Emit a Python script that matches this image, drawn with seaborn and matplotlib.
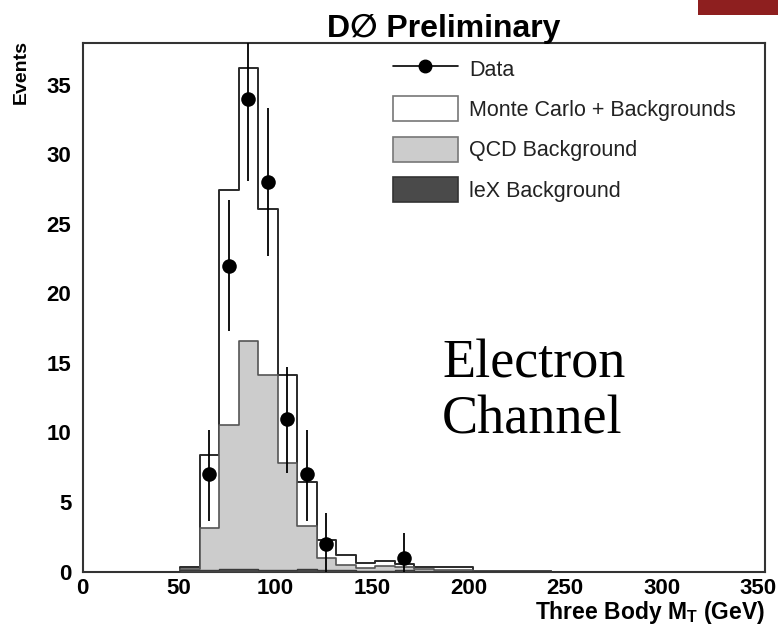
import numpy as np
import pandas as pd
import matplotlib
matplotlib.use("Agg")
import matplotlib.pyplot as plt
from matplotlib.patches import Patch, Rectangle
from matplotlib.lines import Line2D
from matplotlib.transforms import ScaledTranslation
import seaborn as sns

# ---------------- data ----------------
bin_edges = [50, 60, 70, 80, 90, 100, 110, 120, 130, 140, 150, 160, 170,
             180, 190, 200, 210, 220, 230, 240]
mc_total = [0.35, 8.4, 27.4, 36.2, 26.1, 14.1, 6.4, 2.3, 1.2, 0.6, 0.75,
            0.55, 0.35, 0.3, 0.35, 0.06, 0.06, 0.06, 0.06]
qcd_bkg = [0.2, 3.1, 10.5, 16.6, 14.1, 7.8, 3.3, 1.0, 0.45, 0.25, 0.4,
           0.35, 0.2, 0.1, 0.1, 0.02, 0.02, 0.02, 0.02]
lex_bkg = [0.1, 0.1, 0.15, 0.2, 0.1, 0.1, 0.15, 0.1, 0.1, 0.05, 0.05,
           0.1, 0.05, 0.05, 0.05, 0.0, 0.0, 0.0, 0.0]

data_x = [65, 75, 85, 95, 105, 115, 125, 165]
data_y = [7, 22, 34, 28, 11, 7, 2, 1]
data_hi = [10.2, 26.7, 39.8, 33.3, 14.7, 10.2, 4.2, 2.8]
data_lo = [3.6, 17.3, 28.1, 22.7, 7.1, 3.6, 0.0, 0.0]

x_ticks = [0, 50, 100, 150, 200, 250, 300, 350]
y_ticks = [0, 5, 10, 15, 20, 25, 30, 35]
legend_labels = ["Data", "Monte Carlo + Backgrounds", "QCD Background", "leX Background"]

# ---------------- style ----------------
sns.set_style("white")
plt.rcParams["font.family"] = ["Liberation Sans", "DejaVu Sans"]
plt.rcParams["mathtext.fontset"] = "custom"
plt.rcParams["mathtext.rm"] = "Liberation Sans"
plt.rcParams["mathtext.bf"] = "Liberation Sans:bold"
plt.rcParams["text.color"] = "black"

W, H = 781, 626
fig = plt.figure(figsize=(W / 100, H / 100), dpi=100)
fig.patch.set_facecolor("white")
ax_l, ax_r, ax_t, ax_b = 82.5, 765, 43, 571.5
ax = fig.add_axes([ax_l / W, 1 - ax_b / H, (ax_r - ax_l) / W, (ax_b - ax_t) / H])

centers = np.array(bin_edges[:-1]) + 5
df = pd.DataFrame({"mt": centers, "mc": mc_total, "qcd": qcd_bkg, "lex": lex_bkg})

edge_col = "#2a2a2a"
sns.histplot(data=df, x="mt", weights="mc", bins=bin_edges, element="step",
             fill=True, color="white", alpha=1, edgecolor=edge_col,
             linewidth=1.4, ax=ax, zorder=1)
sns.histplot(data=df, x="mt", weights="qcd", bins=bin_edges, element="step",
             fill=True, color="#cccccc", alpha=1, edgecolor="#555555",
             linewidth=1.2, ax=ax, zorder=2)
sns.histplot(data=df, x="mt", weights="lex", bins=bin_edges, element="step",
             fill=True, color="#4a4a4a", alpha=1, edgecolor="#3a3a3a",
             linewidth=1.0, ax=ax, zorder=3)

# data points with error bars
dx = np.array(data_x, dtype=float)
dy = np.array(data_y, dtype=float)
ax.vlines(dx, data_lo, data_hi, color="black", linewidth=1.3, zorder=4)
sns.scatterplot(x=dx, y=dy, color="black", s=110, edgecolor="black",
                linewidth=0, ax=ax, zorder=5)

ax.set_xlim(0, 350)
ax.set_ylim(0, 38)
ax.set_xticks(x_ticks)
ax.set_yticks(y_ticks)
ax.set_xticks(np.arange(0, 351, 10), minor=True)
ax.set_yticks(np.arange(0, 38.1, 1), minor=True)
ax.tick_params(axis="both", which="both", direction="in", top=False, right=False,
               colors="#444444", labelcolor="black")
ax.tick_params(axis="x", which="major", length=11, width=1.1, pad=5)
ax.tick_params(axis="x", which="minor", length=6, width=1.1)
ax.tick_params(axis="y", which="major", length=14, width=1.1, pad=8)
ax.tick_params(axis="y", which="minor", length=6.5, width=1.1)
for lab in ax.get_xticklabels() + ax.get_yticklabels():
    lab.set_fontweight("bold")
    lab.set_fontsize(16)
# x tick labels sit slightly left of their ticks toward the right end, as in the reference
for val, lab in zip(x_ticks, ax.get_xticklabels()):
    shift_px = -7.0 * val / 350.0
    lab.set_transform(lab.get_transform() +
                      ScaledTranslation(shift_px / 100.0, 0, fig.dpi_scale_trans))
for sp in ax.spines.values():
    sp.set_color("#333333")
    sp.set_linewidth(1.5)

ax.set_ylabel("Events", loc="top", fontweight="bold", fontsize=14, color="black")
ax.yaxis.set_label_coords((30 - ax_l) / (ax_r - ax_l), 1.006)
ax.set_xlabel(r"Three Body M$_\mathbf{T}$ (GeV)", loc="right", fontweight="bold",
              fontsize=16.5, color="black")
ax.xaxis.label.set_va("top")
ax.xaxis.set_label_coords(1.0, (ax_b - 599) / (ax_b - ax_t))

fig.text(444 / W, 1 - 37 / H, "D\u2205 Preliminary", ha="center", va="baseline",
         fontsize=23, fontweight="bold", color="black")

# Electron channel annotation
serif = ["Liberation Serif", "DejaVu Serif"]
fig.text(442 / W, 1 - 377 / H, "Electron", family=serif, fontsize=39,
         ha="left", va="baseline", color="black")
fig.text(442 / W, 1 - 433 / H, "Channel", family=serif, fontsize=39,
         ha="left", va="baseline", color="black")

# legend
handles = [
    Line2D([0], [0], color="black", linewidth=1.2, marker="o", markersize=9),
    Patch(facecolor="white", edgecolor="#777777", linewidth=1.2),
    Patch(facecolor="#cccccc", edgecolor="#777777", linewidth=1.2),
    Patch(facecolor="#4a4a4a", edgecolor="#333333", linewidth=1.2),
]
leg = ax.legend(handles, legend_labels, loc="upper left",
                bbox_to_anchor=((393 - ax_l) / (ax_r - ax_l), (ax_b - 56) / (ax_b - ax_t)),
                frameon=False, fontsize=15.5, handlelength=3.0, handleheight=1.4,
                handletextpad=0.55, labelspacing=0.72, borderpad=0, borderaxespad=0)
for t in leg.get_texts():
    t.set_color("#222222")

# partial logo in the top-right corner
fig.patches.append(Rectangle((698 / W, 1 - 15 / H), 80 / W, 15 / H,
                             transform=fig.transFigure, facecolor="#8e1f1f",
                             edgecolor="none"))

fig.savefig("out.png", dpi=100)
